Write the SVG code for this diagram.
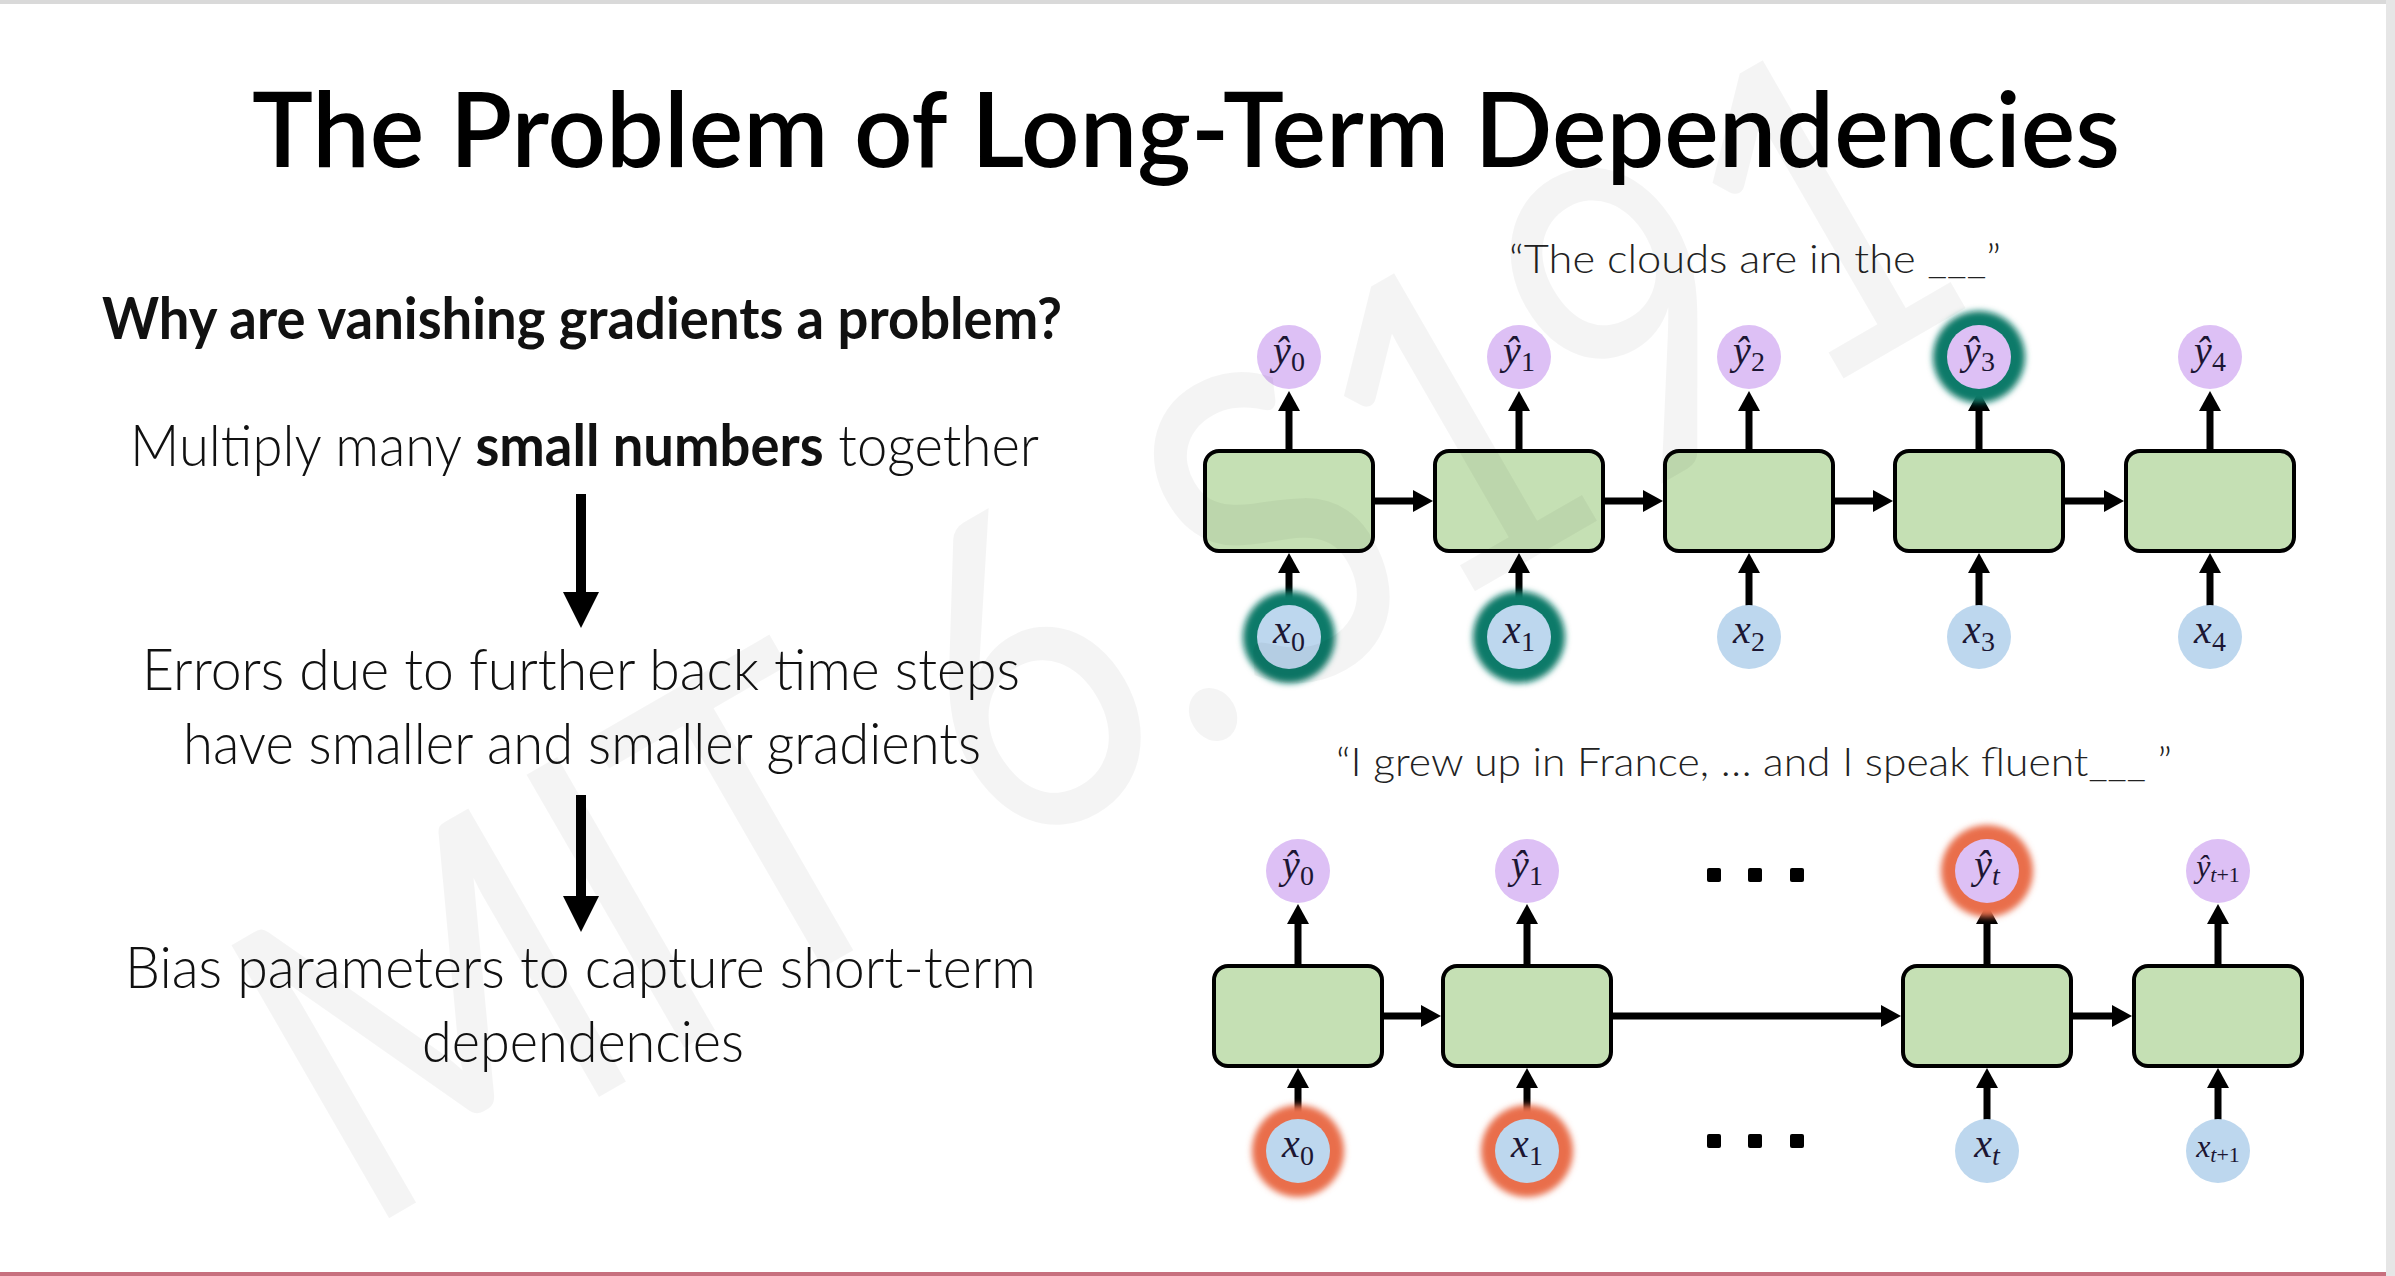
<svg xmlns="http://www.w3.org/2000/svg" width="2395" height="1276" viewBox="0 0 2395 1276">
<style>
.ttl{font-family:Lato,"Liberation Sans",sans-serif;font-size:104px;font-weight:600;fill:#000;}
.body{font-family:Lato,"Liberation Sans",sans-serif;font-size:58px;font-weight:300;fill:#111;}
.bold{font-weight:700;}
.cap{font-family:Lato,"Liberation Sans",sans-serif;font-size:40px;font-weight:300;fill:#222;}
.box{fill:#c5e0b4;stroke:#000;stroke-width:4;}
.yc{fill:#ddc0f5;}
.xc{fill:#bdd7ee;}
.lbl{font-family:"Liberation Serif","DejaVu Serif",serif;font-size:40px;fill:#1c1633;text-anchor:middle;}
.it{font-style:italic;}
.sub{font-size:28px;}
.sm{font-size:32px;}
.sm .sub{font-size:22px;}
.conn{stroke:#000;stroke-width:7;fill:none;}
.big{stroke:#000;stroke-width:10;fill:none;}
.dot{fill:#000;}
.gT{fill:#107a69;}
.gO{fill:#e96e4c;}
.wm{font-family:Lato,"Liberation Sans",sans-serif;font-size:440px;fill:#000;fill-opacity:0.045;}
</style>
<defs>
<marker id="ah" markerUnits="userSpaceOnUse" markerWidth="20" markerHeight="22" refX="3" refY="11" orient="auto"><path d="M0,0 L20,11 L0,22 Z" fill="#000"/></marker>
<marker id="ahL" markerUnits="userSpaceOnUse" markerWidth="36" markerHeight="36" refX="3" refY="18" orient="auto"><path d="M0,0 L36,18 L0,36 Z" fill="#000"/></marker>
<filter id="blur" x="-50%" y="-50%" width="200%" height="200%"><feGaussianBlur stdDeviation="3"/></filter>
</defs>
<rect x="0" y="0" width="2395" height="1276" fill="#fff"/>
<rect x="0" y="0" width="2395" height="4" fill="#d9d9d9"/>
<rect x="2386" y="0" width="9" height="1276" fill="#e6e6e6"/>
<rect x="0" y="1272" width="2386" height="4" fill="#c8707e"/>

<g id="title"><text class="ttl" x="252" y="167" textLength="1868" lengthAdjust="spacingAndGlyphs">The Problem of Long-Term Dependencies</text></g>

<g id="left-text">
<text class="body bold" x="102" y="339" textLength="960" lengthAdjust="spacingAndGlyphs">Why are vanishing gradients a problem?</text>
<text class="body" x="130" y="466" textLength="909" lengthAdjust="spacingAndGlyphs">Multiply many <tspan class="bold">small numbers</tspan> together</text>
<text class="body" x="142" y="690" textLength="878" lengthAdjust="spacingAndGlyphs">Errors due to further back time steps</text>
<text class="body" x="183" y="764" textLength="798" lengthAdjust="spacingAndGlyphs">have smaller and smaller gradients</text>
<text class="body" x="125" y="988" textLength="911" lengthAdjust="spacingAndGlyphs">Bias parameters to capture short-term</text>
<text class="body" x="422" y="1062" textLength="322" lengthAdjust="spacingAndGlyphs">dependencies</text>
</g>

<g id="captions">
<text class="cap" x="1509" y="273" textLength="492" lengthAdjust="spacingAndGlyphs">“The clouds are in the ___”</text>
<text class="cap" x="1336" y="776" textLength="836" lengthAdjust="spacingAndGlyphs">“I grew up in France, … and I speak fluent___ ”</text>
</g>

<g id="connectors">
<line class="big" x1="581" y1="494" x2="581" y2="595" marker-end="url(#ahL)"/>
<line class="big" x1="581" y1="795" x2="581" y2="899" marker-end="url(#ahL)"/>
<line class="conn" x1="1375" y1="501" x2="1416" y2="501" marker-end="url(#ah)"/>
<line class="conn" x1="1605" y1="501" x2="1646" y2="501" marker-end="url(#ah)"/>
<line class="conn" x1="1835" y1="501" x2="1876" y2="501" marker-end="url(#ah)"/>
<line class="conn" x1="2065" y1="501" x2="2107" y2="501" marker-end="url(#ah)"/>
<line class="conn" x1="1289" y1="449" x2="1289" y2="408" marker-end="url(#ah)"/>
<line class="conn" x1="1519" y1="449" x2="1519" y2="408" marker-end="url(#ah)"/>
<line class="conn" x1="1749" y1="449" x2="1749" y2="408" marker-end="url(#ah)"/>
<line class="conn" x1="1979" y1="449" x2="1979" y2="408" marker-end="url(#ah)"/>
<line class="conn" x1="2210" y1="449" x2="2210" y2="408" marker-end="url(#ah)"/>
<line class="conn" x1="1289" y1="606" x2="1289" y2="570" marker-end="url(#ah)"/>
<line class="conn" x1="1519" y1="606" x2="1519" y2="570" marker-end="url(#ah)"/>
<line class="conn" x1="1749" y1="606" x2="1749" y2="570" marker-end="url(#ah)"/>
<line class="conn" x1="1979" y1="606" x2="1979" y2="570" marker-end="url(#ah)"/>
<line class="conn" x1="2210" y1="606" x2="2210" y2="570" marker-end="url(#ah)"/>
<line class="conn" x1="1384" y1="1016" x2="1424" y2="1016" marker-end="url(#ah)"/>
<line class="conn" x1="1613" y1="1016" x2="1884" y2="1016" marker-end="url(#ah)"/>
<line class="conn" x1="2073" y1="1016" x2="2115" y2="1016" marker-end="url(#ah)"/>
<line class="conn" x1="1298" y1="964" x2="1298" y2="921" marker-end="url(#ah)"/>
<line class="conn" x1="1527" y1="964" x2="1527" y2="921" marker-end="url(#ah)"/>
<line class="conn" x1="1987" y1="964" x2="1987" y2="921" marker-end="url(#ah)"/>
<line class="conn" x1="2218" y1="964" x2="2218" y2="921" marker-end="url(#ah)"/>
<line class="conn" x1="1298" y1="1120" x2="1298" y2="1085" marker-end="url(#ah)"/>
<line class="conn" x1="1527" y1="1120" x2="1527" y2="1085" marker-end="url(#ah)"/>
<line class="conn" x1="1987" y1="1120" x2="1987" y2="1085" marker-end="url(#ah)"/>
<line class="conn" x1="2218" y1="1120" x2="2218" y2="1085" marker-end="url(#ah)"/>
</g>

<g id="cell-a0"><rect class="box" x="1205" y="451" width="168" height="100" rx="14"/></g>
<g id="cell-a1"><rect class="box" x="1435" y="451" width="168" height="100" rx="14"/></g>
<g id="cell-a2"><rect class="box" x="1665" y="451" width="168" height="100" rx="14"/></g>
<g id="cell-a3"><rect class="box" x="1895" y="451" width="168" height="100" rx="14"/></g>
<g id="cell-a4"><rect class="box" x="2126" y="451" width="168" height="100" rx="14"/></g>

<g id="out-a0"><circle class="yc" cx="1289" cy="357" r="32"/><text class="lbl" x="1289" y="364"><tspan class="it">ŷ</tspan><tspan class="sub" dy="7">0</tspan></text></g>
<g id="out-a1"><circle class="yc" cx="1519" cy="357" r="32"/><text class="lbl" x="1519" y="364"><tspan class="it">ŷ</tspan><tspan class="sub" dy="7">1</tspan></text></g>
<g id="out-a2"><circle class="yc" cx="1749" cy="357" r="32"/><text class="lbl" x="1749" y="364"><tspan class="it">ŷ</tspan><tspan class="sub" dy="7">2</tspan></text></g>
<g id="out-a3"><circle class="gT" cx="1979" cy="357" r="46" filter="url(#blur)"/><circle class="yc" cx="1979" cy="357" r="32"/><text class="lbl" x="1979" y="364"><tspan class="it">ŷ</tspan><tspan class="sub" dy="7">3</tspan></text></g>
<g id="out-a4"><circle class="yc" cx="2210" cy="357" r="32"/><text class="lbl" x="2210" y="364"><tspan class="it">ŷ</tspan><tspan class="sub" dy="7">4</tspan></text></g>

<g id="in-a0"><circle class="gT" cx="1289" cy="637" r="46" filter="url(#blur)"/><circle class="xc" cx="1289" cy="637" r="32"/><text class="lbl" x="1289" y="643"><tspan class="it">x</tspan><tspan class="sub" dy="8">0</tspan></text></g>
<g id="in-a1"><circle class="gT" cx="1519" cy="637" r="46" filter="url(#blur)"/><circle class="xc" cx="1519" cy="637" r="32"/><text class="lbl" x="1519" y="643"><tspan class="it">x</tspan><tspan class="sub" dy="8">1</tspan></text></g>
<g id="in-a2"><circle class="xc" cx="1749" cy="637" r="32"/><text class="lbl" x="1749" y="643"><tspan class="it">x</tspan><tspan class="sub" dy="8">2</tspan></text></g>
<g id="in-a3"><circle class="xc" cx="1979" cy="637" r="32"/><text class="lbl" x="1979" y="643"><tspan class="it">x</tspan><tspan class="sub" dy="8">3</tspan></text></g>
<g id="in-a4"><circle class="xc" cx="2210" cy="637" r="32"/><text class="lbl" x="2210" y="643"><tspan class="it">x</tspan><tspan class="sub" dy="8">4</tspan></text></g>

<g id="cell-b0"><rect class="box" x="1214" y="966" width="168" height="100" rx="14"/></g>
<g id="cell-b1"><rect class="box" x="1443" y="966" width="168" height="100" rx="14"/></g>
<g id="cell-bt"><rect class="box" x="1903" y="966" width="168" height="100" rx="14"/></g>
<g id="cell-bt1"><rect class="box" x="2134" y="966" width="168" height="100" rx="14"/></g>

<g id="out-b0"><circle class="yc" cx="1298" cy="871" r="32"/><text class="lbl" x="1298" y="878"><tspan class="it">ŷ</tspan><tspan class="sub" dy="7">0</tspan></text></g>
<g id="out-b1"><circle class="yc" cx="1527" cy="871" r="32"/><text class="lbl" x="1527" y="878"><tspan class="it">ŷ</tspan><tspan class="sub" dy="7">1</tspan></text></g>
<g id="out-bt"><circle class="gO" cx="1987" cy="871" r="46" filter="url(#blur)"/><circle class="yc" cx="1987" cy="871" r="32"/><text class="lbl" x="1987" y="878"><tspan class="it">ŷ</tspan><tspan class="sub it" dy="7">t</tspan></text></g>
<g id="out-bt1"><circle class="yc" cx="2218" cy="871" r="32"/><text class="lbl sm" x="2218" y="877"><tspan class="it">ŷ</tspan><tspan class="sub" dy="5"><tspan class="it">t</tspan>+1</tspan></text></g>

<g id="in-b0"><circle class="gO" cx="1298" cy="1151" r="46" filter="url(#blur)"/><circle class="xc" cx="1298" cy="1151" r="32"/><text class="lbl" x="1298" y="1157"><tspan class="it">x</tspan><tspan class="sub" dy="8">0</tspan></text></g>
<g id="in-b1"><circle class="gO" cx="1527" cy="1151" r="46" filter="url(#blur)"/><circle class="xc" cx="1527" cy="1151" r="32"/><text class="lbl" x="1527" y="1157"><tspan class="it">x</tspan><tspan class="sub" dy="8">1</tspan></text></g>
<g id="in-bt"><circle class="xc" cx="1987" cy="1151" r="32"/><text class="lbl" x="1987" y="1157"><tspan class="it">x</tspan><tspan class="sub it" dy="8">t</tspan></text></g>
<g id="in-bt1"><circle class="xc" cx="2218" cy="1151" r="32"/><text class="lbl sm" x="2218" y="1157"><tspan class="it">x</tspan><tspan class="sub" dy="5"><tspan class="it">t</tspan>+1</tspan></text></g>

<g id="ellipsis-top"><rect class="dot" x="1707" y="868" width="14" height="14" rx="2"/><rect class="dot" x="1748" y="868" width="14" height="14" rx="2"/><rect class="dot" x="1790" y="868" width="14" height="14" rx="2"/></g>
<g id="ellipsis-bottom"><rect class="dot" x="1707" y="1134" width="14" height="14" rx="2"/><rect class="dot" x="1748" y="1134" width="14" height="14" rx="2"/><rect class="dot" x="1790" y="1134" width="14" height="14" rx="2"/></g>

<g id="watermark"><text class="wm" transform="translate(360,1235) rotate(-30)" x="0" y="0" textLength="1880" lengthAdjust="spacingAndGlyphs">MIT 6.S191</text></g>
</svg>
